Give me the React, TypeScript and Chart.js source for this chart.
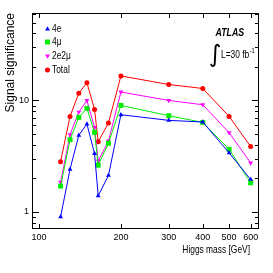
import React, { useEffect, useRef } from "react";
import { Chart, registerables } from "chart.js";
Chart.register(...registerables);

const masses = [120, 130, 140, 150, 160, 165, 180, 200, 300, 400, 500, 600];
const sig4e = [0.9, 2.41, 4.86, 6.14, 3.33, 1.39, 2.12, 7.44, 6.62, 6.4, 3.38, 1.95];
const sig4mu = [1.7, 4.44, 7.04, 8.48, 5.17, 2.62, 4.12, 9.02, 7.29, 6.35, 3.64, 1.82];
const sig2e2mu = [1.84, 4.93, 7.86, 10.0, 5.73, 2.86, 4.32, 11.9, 10.0, 9.15, 5.13, 2.75];
const sigTotal = [2.82, 7.19, 11.6, 14.4, 8.3, 4.26, 6.27, 16.6, 13.9, 12.8, 7.19, 3.85];

const seriesLabels = ["4e", "4\u03bc", "2e2\u03bc", "Total"];
const xTickValues = [100, 200, 300, 400, 500, 600];
const yMajorValues = [1, 10];
const yMinorValues = [0.8, 0.9, 2, 3, 4, 5, 6, 7, 8, 9, 20, 30, 40, 50, 60];

const SANS = "'Liberation Sans', Arial, sans-serif";
const SQ = 0.8;

function drawMarker(ctx: CanvasRenderingContext2D, style: string, x: number, y: number, r: number, rot: number, color: string) {
  ctx.save();
  ctx.fillStyle = color;
  ctx.beginPath();
  if (style === "circle") {
    ctx.arc(x, y, r, 0, Math.PI * 2);
  } else if (style === "rect") {
    const s = r * Math.SQRT1_2;
    ctx.rect(x - s, y - s, 2 * s, 2 * s);
  } else {
    const a0 = (rot * Math.PI) / 180 - Math.PI / 2;
    for (let i = 0; i < 3; i++) {
      const a = a0 + (i * 2 * Math.PI) / 3;
      const px = x + Math.cos(a) * r;
      const py = y + Math.sin(a) * r;
      if (i === 0) ctx.moveTo(px, py);
      else ctx.lineTo(px, py);
    }
    ctx.closePath();
  }
  ctx.fill();
  ctx.restore();
}

function squeezedText(ctx: CanvasRenderingContext2D, text: string, x: number, y: number, font: string, align: CanvasTextAlign, baseline: CanvasTextBaseline) {
  ctx.save();
  ctx.translate(x, y);
  ctx.scale(SQ, 1);
  ctx.font = font;
  ctx.textAlign = align;
  ctx.textBaseline = baseline;
  ctx.fillStyle = "#000";
  ctx.fillText(text, 0, 0);
  const w = ctx.measureText(text).width * SQ;
  ctx.restore();
  return w;
}

const decorPlugin = {
  id: "decor",
  afterDraw(chart: any) {
    const { ctx, chartArea: a, scales } = chart;
    const xs = scales.x;
    const ys = scales.y;
    ctx.save();
    ctx.strokeStyle = "#000";
    ctx.lineWidth = 1;
    ctx.strokeRect(a.left + 0.5, a.top + 0.5, a.right - a.left - 1, a.bottom - a.top - 1);
    ctx.beginPath();
    const yTick = (v: number, len: number) => {
      const py = Math.round(ys.getPixelForValue(v)) + 0.5;
      if (py < a.top || py > a.bottom) return;
      ctx.moveTo(a.left, py);
      ctx.lineTo(a.left + len, py);
      ctx.moveTo(a.right, py);
      ctx.lineTo(a.right - len, py);
    };
    yMajorValues.forEach((v) => yTick(v, 7));
    yMinorValues.forEach((v) => yTick(v, 4));
    xTickValues.forEach((v) => {
      const px = Math.round(xs.getPixelForValue(v)) + 0.5;
      ctx.moveTo(px, a.bottom);
      ctx.lineTo(px, a.bottom - 5);
      ctx.moveTo(px, a.top);
      ctx.lineTo(px, a.top + 5);
    });
    ctx.stroke();

    // x title
    squeezedText(ctx, "Higgs mass [GeV]", 250, 250, "10.5px " + SANS, "right", "middle");

    // legend
    const rows = [29, 42, 56, 70];
    chart.data.datasets.forEach((ds: any, i: number) => {
      drawMarker(ctx, ds.pointStyle, 47.5, rows[i], ds.pointRadius, ds.pointRotation || 0, ds.pointBackgroundColor);
      squeezedText(ctx, ds.label, 52, rows[i] + 0.5, "10.5px " + SANS, "left", "middle");
    });

    // ATLAS label
    squeezedText(ctx, "ATLAS", 215.5, 35.5, "italic bold 11px " + SANS, "left", "alphabetic");
    ctx.fillStyle = "#000";
    ctx.font = "24px 'DejaVu Sans'";
    ctx.textAlign = "left";
    ctx.textBaseline = "alphabetic";
    ctx.fillText("\u222b", 209, 62);
    const w = squeezedText(ctx, "L=30 fb", 221, 58, "10.5px " + SANS, "left", "alphabetic");
    squeezedText(ctx, "-1", 221 + w + 0.5, 53, "7px " + SANS, "left", "alphabetic");
    ctx.restore();
  },
};

export default function App() {
  const ref = useRef<HTMLCanvasElement>(null);
  useEffect(() => {
    document.body.style.margin = "0";
    const mk = (label: string, vals: number[], color: string, style: string, r: number, rot = 0) => ({
      label,
      data: masses.map((m, i) => ({ x: m, y: vals[i] })),
      borderColor: color,
      backgroundColor: color,
      pointBackgroundColor: color,
      pointBorderColor: color,
      pointBorderWidth: 0,
      borderWidth: 1,
      pointStyle: style,
      pointRadius: r,
      pointRotation: rot,
      tension: 0,
    });
    const chart = new Chart(ref.current!, {
      type: "line",
      data: {
        datasets: [
          mk(seriesLabels[0], sig4e, "#0000ff", "triangle", 2.8),
          mk(seriesLabels[1], sig4mu, "#00ee00", "rect", 3.5),
          mk(seriesLabels[2], sig2e2mu, "#ff00ff", "triangle", 2.8, 180),
          mk(seriesLabels[3], sigTotal, "#ff0000", "circle", 2.5),
        ],
      },
      options: {
        animation: false,
        responsive: false,
        maintainAspectRatio: false,
        layout: { padding: { top: 13, right: 14, left: 0, bottom: 0 } },
        plugins: { legend: { display: false }, tooltip: { enabled: false } },
        scales: {
          x: {
            type: "logarithmic",
            min: 94.2,
            max: 644,
            grid: { display: false, drawTicks: false },
            border: { display: false },
            afterBuildTicks: (s: any) => {
              s.ticks = xTickValues.map((v) => ({ value: v }));
            },
            afterFit: (s: any) => {
              s.height = 44;
            },
            ticks: {
              autoSkip: false,
              maxRotation: 0,
              padding: 3,
              color: "#000",
              font: { family: SANS, size: 9 },
              callback: (v: any) => String(v),
            },
          },
          y: {
            type: "logarithmic",
            min: 0.71,
            max: 61,
            grid: { display: false, drawTicks: false },
            border: { display: false },
            afterBuildTicks: (s: any) => {
              s.ticks = yMajorValues.map((v) => ({ value: v }));
            },
            afterFit: (s: any) => {
              s.width = 32;
            },
            title: {
              display: true,
              text: "Signal significance",
              align: "end",
              color: "#000",
              font: { family: SANS, size: 12 },
              padding: { top: 3, bottom: 0 },
            },
            ticks: {
              padding: 3,
              color: "#000",
              font: { family: SANS, size: 9 },
              callback: (v: any) => String(v),
            },
          },
        },
      },
      plugins: [decorPlugin],
    } as any);
    return () => chart.destroy();
  }, []);
  return <canvas ref={ref} width={273} height={273} style={{ display: "block", width: 273, height: 273 }} />;
}
